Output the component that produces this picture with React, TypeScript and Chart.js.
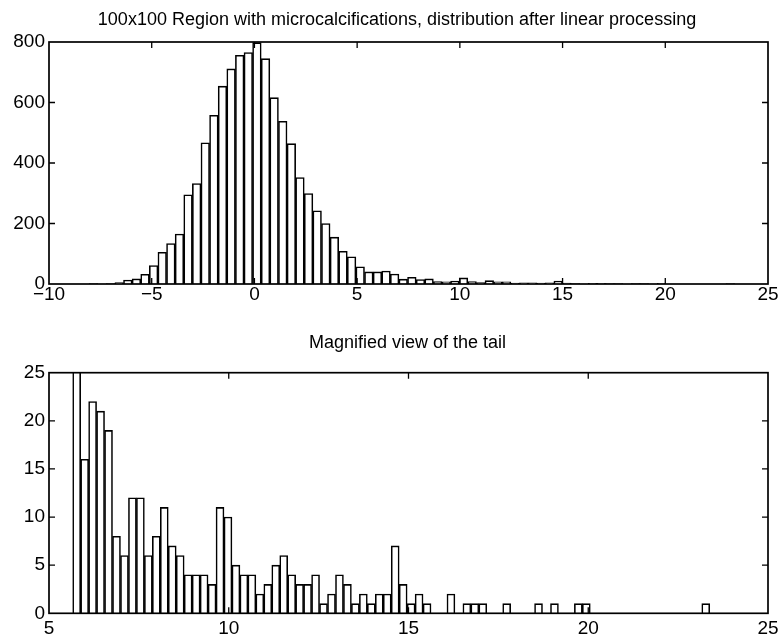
import { useEffect, useRef } from "react";
import { Chart, registerables } from "chart.js";

Chart.register(...registerables);

// Full-range histogram (75 bins)
const topTitle =
  "100x100 Region with microcalcifications, distribution after linear processing";
const topFirstCenter = -7.84;
const topBinWidth = 0.419;
const topCounts = [
  1, 0, 1, 5, 13, 17, 32, 61, 105, 134,
  165, 295, 332, 467, 558, 654, 711, 756, 765, 798,
  745, 616, 538, 464, 352, 299, 242, 200, 155, 108,
  90, 57, 40, 40, 43, 33, 16, 22, 15, 17,
  8, 7, 10, 20, 8, 5, 11, 7, 7, 3,
  4, 4, 3, 4, 10, 3, 1, 0, 2, 2,
  1, 1, 0, 1, 1, 0, 2, 0, 0, 0,
  0, 0, 0, 0, 1,
];
const topXRange = [-10, 25];
const topYRange = [0, 800];
const topXStep = 5;
const topYStep = 200;

// Tail histogram (80 bins)
const tailTitle = "Magnified view of the tail";
const tailFirstCenter = 5.77;
const tailBinWidth = 0.2215;
const tailCounts = [
  38, 16, 22, 21, 19, 8, 6, 12, 12, 6,
  8, 11, 7, 6, 4, 4, 4, 3, 11, 10,
  5, 4, 4, 2, 3, 5, 6, 4, 3, 3,
  4, 1, 2, 4, 3, 1, 2, 1, 2, 2,
  7, 3, 1, 2, 1, 0, 0, 2, 0, 1,
  1, 1, 0, 0, 1, 0, 0, 0, 1, 0,
  1, 0, 0, 1, 1, 0, 0, 0, 0, 0,
  0, 0, 0, 0, 0, 0, 0, 0, 0, 1,
];
const tailXRange = [5, 25];
const tailYRange = [0, 25];
const tailXStep = 5;
const tailYStep = 5;

const FONT = "'Liberation Sans', Arial, Helvetica, sans-serif";
const W = 783;
const H = 321;

// Axes box with inward tick marks on all four sides, plus the panel title
const boxPlugin = {
  id: "boxTicks",
  afterDatasetsDraw(chart: any, _args: any, opts: any) {
    const { ctx, chartArea: a, scales } = chart;
    const len = 6;
    ctx.save();
    ctx.strokeStyle = "#000";
    ctx.lineWidth = 1.3;
    ctx.beginPath();
    scales.x.ticks.forEach((t: any) => {
      const p = scales.x.getPixelForValue(t.value);
      if (p <= a.left + 1 || p >= a.right - 1) return;
      ctx.moveTo(p, a.bottom);
      ctx.lineTo(p, a.bottom - len);
      ctx.moveTo(p, a.top);
      ctx.lineTo(p, a.top + len);
    });
    scales.y.ticks.forEach((t: any) => {
      const p = scales.y.getPixelForValue(t.value);
      if (p <= a.top + 1 || p >= a.bottom - 1) return;
      ctx.moveTo(a.left, p);
      ctx.lineTo(a.left + len, p);
      ctx.moveTo(a.right, p);
      ctx.lineTo(a.right - len, p);
    });
    ctx.stroke();
    ctx.lineWidth = 1.7;
    ctx.strokeRect(a.left, a.top, a.right - a.left, a.bottom - a.top);

    ctx.fillStyle = "#000";
    ctx.font = `18px ${FONT}`;
    ctx.textAlign = "center";
    ctx.textBaseline = "middle";
    ctx.fillText(opts.text, opts.x, opts.y);
    ctx.restore();
  },
};

type Panel = {
  title: string;
  titleX: number;
  titleY: number;
  areaTop: number;
  xAxisHeight: number;
  xLabelPad: number;
  firstCenter: number;
  binWidth: number;
  counts: number[];
  xRange: number[];
  yRange: number[];
  xStep: number;
  yStep: number;
};

function makeChart(canvas: HTMLCanvasElement, p: Panel) {
  const points = p.counts.map((c, i) => ({ x: p.firstCenter + i * p.binWidth, y: c }));
  const tickFont = { family: FONT, size: 19 };
  return new Chart(canvas, {
    type: "bar",
    data: {
      datasets: [
        {
          data: points as any,
          backgroundColor: "#ffffff",
          borderColor: "#000000",
          borderWidth: 1.6,
          barPercentage: 1,
          categoryPercentage: 1,
        },
      ],
    },
    options: {
      responsive: false,
      animation: false,
      devicePixelRatio: 1,
      events: [],
      layout: { padding: { left: 0, right: 15, top: p.areaTop, bottom: 0 } },
      plugins: {
        legend: { display: false },
        tooltip: { enabled: false },
        title: { display: false },
        boxTicks: { text: p.title, x: p.titleX, y: p.titleY },
      } as any,
      scales: {
        x: {
          type: "linear",
          min: p.xRange[0],
          max: p.xRange[1],
          offset: false,
          grid: { display: false, drawTicks: false, offset: false },
          border: { display: false },
          ticks: {
            stepSize: p.xStep,
            color: "#000",
            font: tickFont,
            padding: p.xLabelPad,
            maxRotation: 0,
            autoSkip: false,
            callback: (v: any) => String(v).replace("-", "\u2212"),
          },
          afterFit: (s: any) => {
            s.height = p.xAxisHeight;
          },
        },
        y: {
          type: "linear",
          min: p.yRange[0],
          max: p.yRange[1],
          grid: { display: false, drawTicks: false },
          border: { display: false },
          ticks: {
            stepSize: p.yStep,
            color: "#000",
            font: tickFont,
            padding: 4,
          },
          afterFit: (s: any) => {
            s.width = 49;
          },
        },
      },
    },
    plugins: [boxPlugin],
  });
}

export default function App() {
  const topRef = useRef<HTMLCanvasElement>(null);
  const tailRef = useRef<HTMLCanvasElement>(null);

  useEffect(() => {
    const top = makeChart(topRef.current!, {
      title: topTitle,
      titleX: 397,
      titleY: 20,
      areaTop: 42,
      xAxisHeight: H - 284,
      xLabelPad: -1,
      firstCenter: topFirstCenter,
      binWidth: topBinWidth,
      counts: topCounts,
      xRange: topXRange,
      yRange: topYRange,
      xStep: topXStep,
      yStep: topYStep,
    });
    const tail = makeChart(tailRef.current!, {
      title: tailTitle,
      titleX: 407.5,
      titleY: 22,
      areaTop: 51.7,
      xAxisHeight: H - 292.3,
      xLabelPad: 4,
      firstCenter: tailFirstCenter,
      binWidth: tailBinWidth,
      counts: tailCounts,
      xRange: tailXRange,
      yRange: tailYRange,
      xStep: tailXStep,
      yStep: tailYStep,
    });
    return () => {
      top.destroy();
      tail.destroy();
    };
  }, []);

  return (
    <div style={{ position: "absolute", left: 0, top: 0, width: W, height: 2 * H, background: "#fff" }}>
      <canvas ref={topRef} width={W} height={H} style={{ display: "block", width: W, height: H }} />
      <canvas ref={tailRef} width={W} height={H} style={{ display: "block", width: W, height: H }} />
    </div>
  );
}
